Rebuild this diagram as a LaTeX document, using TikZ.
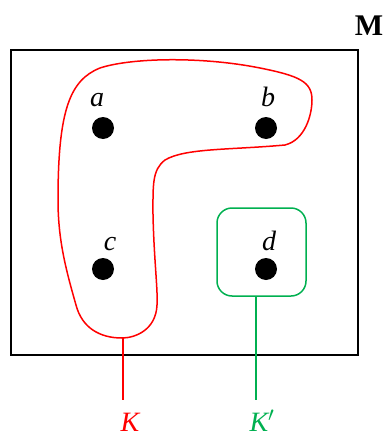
\documentclass[tikz,border=0pt]{standalone}
\usepackage{fontspec}
\setmainfont{Liberation Serif}
\definecolor{kgreen}{RGB}{0,176,80}
\begin{document}
\begin{tikzpicture}[x=1pt,y=-1pt,
  pt/.style={circle,fill=black,inner sep=0pt,minimum size=22pt},
  lab/.style={font=\fontsize{28}{30}\selectfont\itshape,anchor=base,inner sep=0pt},
  redline/.style={draw=red,line width=1.5pt},
  greenline/.style={draw=kgreen,line width=1.5pt}]
\useasboundingbox (0,0) rectangle (386,434);
\draw[line width=2pt] (11,50) rectangle (358,355);
\node[font=\fontsize{30}{32}\selectfont\bfseries,anchor=base,inner sep=0pt] (M) at (369,35) {M};
\node[pt] (a) at (103,128) {};
\node[pt] (b) at (266,128) {};
\node[pt] (c) at (103,269) {};
\node[pt] (d) at (266,269) {};
\node[lab] (la) at (97,106) {a};
\node[lab] (lb) at (268,106) {b};
\node[lab] (lc) at (110,250) {c};
\node[lab] (ld) at (269,250) {d};
\draw[redline] (58,200) .. controls (58,110) and (70,80) .. (100,68)
  .. controls (130,58) and (200,56) .. (260,68)
  .. controls (300,76) and (312,82) .. (312,100)
  .. controls (312,115) and (305,140) .. (285,145)
  .. controls (230,150) and (185,148) .. (165,160)
  .. controls (152,170) and (153,185) .. (153,215)
  .. controls (154,260) and (158,290) .. (157,305)
  .. controls (156,330) and (135,338) .. (122,338)
  .. controls (100,338) and (82,328) .. (76,305)
  .. controls (66,270) and (58,240) .. (58,200) -- cycle;
\node[draw=kgreen,line width=1.5pt,rounded corners=15pt,minimum width=89pt,minimum height=88pt,inner sep=0pt] (Kb) at (261.5,252) {};
\coordinate (kr) at (123,337);
\coordinate (kre) at (123,400);
\coordinate (kge) at (256,400);
\draw[redline] (kr) -- (kre);
\draw[greenline] (Kb.south -| kge) -- (kge);
\node[lab,text=red] (K) at (130,431) {K};
\node[lab,text=kgreen] (Kp) at (262,431) {K$'$};
\end{tikzpicture}
\end{document}
